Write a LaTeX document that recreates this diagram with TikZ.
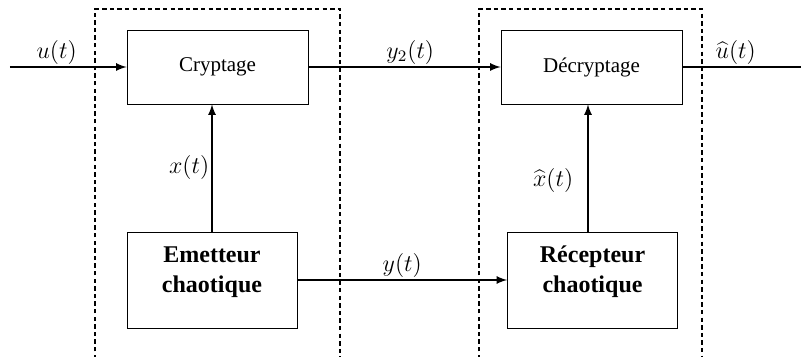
\documentclass[tikz,border=0pt]{standalone}
\usepackage{fontspec}
\setmainfont{Liberation Serif}
\usepackage{tikz}
\tikzset{bloc/.style={draw = black, rectangle, minimum width = 90.5pt, minimum height = 37pt, font=\fontsize{10.5}{12}\selectfont}}
\tikzset{chaos/.style={draw = black, rectangle, minimum width = 85pt, minimum height = 48pt, align = center, text height = 25pt, text depth = 12pt, font=\fontsize{12}{15}\selectfont\bfseries}}
\tikzset{signal/.style={font=\fontsize{11.5}{13}\selectfont, inner sep = 1pt}}
\tikzset{every edge/.style={draw = black, line width = 0.8pt, -latex}}
\tikzset{zone/.style={draw = black, line width = 0.8pt, dash pattern = on 2.2pt off 1.6pt}}

\begin{document}
\begin{tikzpicture}[node distance = 187pt]
  \useasboundingbox (-108.75pt,-145pt) rectangle (291.75pt,33.5pt);

  \draw[zone] (-61.25pt,-146pt) |- (61.25pt,29pt) -- (61.25pt,-146pt);
  \draw[zone] (130.75pt,-146pt) |- (242.25pt,29pt) -- (242.25pt,-146pt);

  \node[bloc] (crypt) at (0,0) {Cryptage};
  \node[bloc] (decrypt) [right of = crypt] {Décryptage};
  \node[chaos] (emet) [node distance = 106.5pt, below of = crypt, xshift = -2.75pt] {Emetteur\\chaotique};
  \node[chaos] (recep) [node distance = 106.5pt, below of = decrypt, xshift = 0.5pt] {Récepteur\\chaotique};

  \coordinate (in) at (-103.75pt,0);
  \coordinate (out) at (291.75pt,0);
  \coordinate (feed) at ([xshift = -2.25pt]recep.north);

  \path (in) edge node[signal, above, pos = 0.4] {$u(t)$} (crypt);
  \path (crypt) edge node[signal, above, pos = 0.53] {$y_2(t)$} (decrypt);
  \path (decrypt) edge[-] node[signal, above, pos = 0.45] {$\widehat{u}(t)$} (out);

  \path (emet) edge node[signal, left] {$x(t)$} (emet |- crypt.south);
  \path (feed) edge node[signal, left, pos = 0.4, xshift = -6pt] {$\widehat{x}(t)$} (feed |- decrypt.south);

  \path (emet) edge node[signal, above] {$y(t)$} (recep);
\end{tikzpicture}
\end{document}
